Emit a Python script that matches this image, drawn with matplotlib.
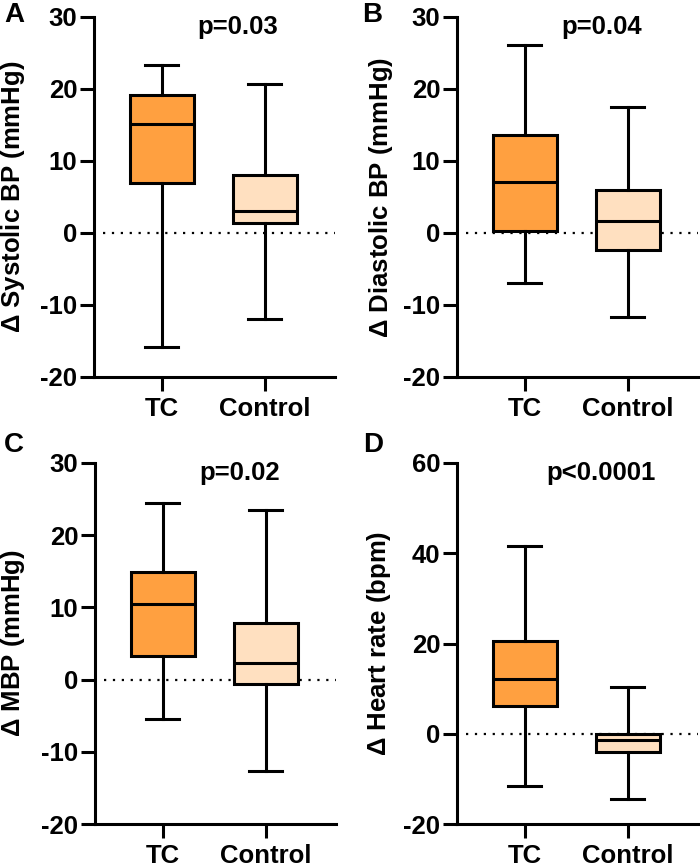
import matplotlib
matplotlib.use("Agg")
import matplotlib.pyplot as plt

plt.rcParams['font.family'] = ['Liberation Sans', 'DejaVu Sans']
plt.rcParams['font.weight'] = 'bold'
plt.rcParams['axes.unicode_minus'] = False
plt.rcParams['mathtext.fontset'] = 'custom'
plt.rcParams['mathtext.rm'] = 'Liberation Sans'
plt.rcParams['mathtext.it'] = 'Liberation Sans:italic'
plt.rcParams['mathtext.bf'] = 'Liberation Sans:bold'

groups = ["TC", "Control"]
colors = ["#FFA040", "#FFE0C0"]

# Each: [whislo, q1, med, q3, whishi]
sbp_tc = [-15.8, 7.0, 15.2, 19.2, 23.4]
sbp_ctrl = [-12.0, 1.4, 3.1, 8.1, 20.7]
dbp_tc = [-6.9, 0.3, 7.1, 13.6, 26.1]
dbp_ctrl = [-11.7, -2.3, 1.7, 6.0, 17.5]
mbp_tc = [-5.5, 3.3, 10.5, 14.9, 24.4]
mbp_ctrl = [-12.7, -0.6, 2.3, 7.8, 23.5]
hr_tc = [-11.5, 6.2, 12.1, 20.6, 41.6]
hr_ctrl = [-14.4, -4.1, -1.4, 0.0, 10.4]

panels = [
    ("A", r"$\Delta$ Systolic BP (mmHg)", "p=0.03", [sbp_tc, sbp_ctrl], [-20, 30], [-20, -10, 0, 10, 20, 30]),
    ("B", r"$\Delta$ Diastolic BP (mmHg)", "p=0.04", [dbp_tc, dbp_ctrl], [-20, 30], [-20, -10, 0, 10, 20, 30]),
    ("C", r"$\Delta$ MBP (mmHg)", "p=0.02", [mbp_tc, mbp_ctrl], [-20, 30], [-20, -10, 0, 10, 20, 30]),
    ("D", r"$\Delta$ Heart rate (bpm)", "p<0.0001", [hr_tc, hr_ctrl], [-20, 60], [-20, 0, 20, 40, 60]),
]

W, H = 700, 867
fig = plt.figure(figsize=(7, 8.67), dpi=100)

# axes boxes in pixels: (left, top, right, bottom)
boxes_px = [(94, 17, 335, 377), (457, 17, 698, 377), (95, 463, 336, 824), (457, 463, 698, 824)]
letter_px = [(14, 15), (372, 15), (14, 445), (373, 445)]
ylabel_x = [-0.278, -0.257, -0.282, -0.266]

lw = 2.2
fs = 18.5
for (letter, ylabel, ptxt, data, ylim, yticks), (l, t, r, b), (lx, ly), yx in zip(panels, boxes_px, letter_px, ylabel_x):
    ax = fig.add_axes([l / W, (H - b) / H, (r - l) / W, (b - t) / H])
    stats = []
    for g, d in zip(groups, data):
        stats.append(dict(label=g, whislo=d[0], q1=d[1], med=d[2], q3=d[3], whishi=d[4], fliers=[]))
    bp = ax.bxp(stats, positions=[0, 1], widths=0.63, patch_artist=True, showfliers=False,
                boxprops=dict(linewidth=lw, edgecolor="black"),
                whiskerprops=dict(linewidth=lw, color="black"),
                capprops=dict(linewidth=lw, color="black"),
                medianprops=dict(linewidth=lw, color="black"),
                capwidths=0.32)
    for patch, c in zip(bp['boxes'], colors):
        patch.set_facecolor(c)
    ax.axhline(0, xmin=0.037, xmax=1.0, color="black", linewidth=1.6,
               linestyle=(0, (1, 3)), zorder=0.5)
    ax.set_xlim(-0.66, 1.68)
    ax.set_ylim(*ylim)
    ax.set_yticks(yticks)
    ax.set_xticks([0, 1])
    ax.set_xticklabels(groups)
    for s in ["top", "right"]:
        ax.spines[s].set_visible(False)
    for s in ["left", "bottom"]:
        ax.spines[s].set_linewidth(lw)
    ax.tick_params(axis="y", length=10, width=lw, labelsize=fs, pad=2)
    ax.tick_params(axis="x", length=10, width=lw, labelsize=fs, pad=4.5)
    for lab in ax.get_xticklabels() + ax.get_yticklabels():
        lab.set_fontweight("bold")
    ax.set_ylabel(ylabel, fontsize=fs, fontweight="bold")
    ax.yaxis.set_label_coords(yx, 0.5)
    ax.text(0.74, ylim[1] - (ylim[1] - ylim[0]) * 0.028, ptxt, ha="center", va="center",
            fontsize=fs, fontweight="bold")
    fig.text(lx / W, 1 - ly / H, letter, ha="center", va="center", fontsize=20, fontweight="bold")

fig.savefig("out.png", dpi=100)
